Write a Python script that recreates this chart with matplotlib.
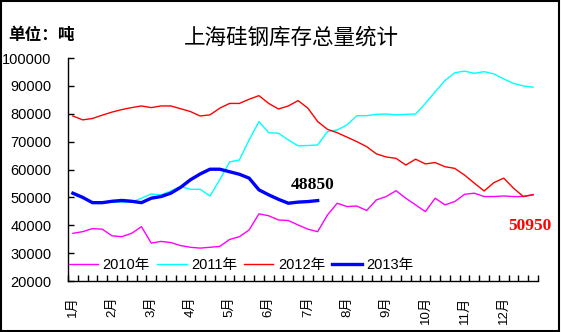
import matplotlib
matplotlib.use('Agg')
import matplotlib.pyplot as plt
from matplotlib.patches import Rectangle

# ------------- datos (toneladas, semanal) -------------
months = ['1月', '2月', '3月', '4月', '5月', '6月', '7月', '8月', '9月', '10月', '11月', '12月']
y2010 = [37100, 37700, 38800, 38600, 36200, 35900, 37100, 39500, 33600, 34200, 33800, 32700,
         32100, 31800, 32100, 32400, 34900, 35900, 38300, 44100, 43400, 41900, 41700, 40100,
         38600, 37700, 43700, 47900, 46700, 46900, 45300, 49100, 50300, 52400, 49700, 47300,
         44900, 49700, 47300, 48500, 51100, 51500, 50300, 50300, 50500, 50300, 50300, 51000]
y2011 = [51200, 49700, 48300, 48300, 48300, 48300, 48300, 49700, 51200, 50900, 52300, 53900,
         52900, 52900, 50500, 56300, 62700, 63400, 70600, 77200, 73200, 73000, 70600, 68500,
         68600, 68800, 73600, 74200, 76000, 79300, 79300, 79800, 79900, 79600, 79800, 79900,
         83700, 87900, 91900, 94700, 95300, 94500, 95100, 94300, 92500, 90900, 90000, 89500]
y2012 = [79200, 77800, 78300, 79500, 80600, 81500, 82200, 82800, 82200, 82800, 82800, 81800,
         80800, 79200, 79600, 82000, 83700, 83700, 85200, 86500, 83700, 81700, 82800, 84700,
         82000, 77200, 74400, 73200, 71600, 70000, 68200, 65600, 64500, 64000, 61600, 63700,
         62000, 62500, 61000, 60400, 58000, 55100, 52300, 55300, 56900, 53300, 50300, 50950]
y2013 = [51500, 50000, 48100, 48100, 48600, 48900, 48600, 48100, 49700, 50300, 51500, 53600,
         56300, 58400, 60100, 60100, 59200, 58300, 56900, 52700, 50900, 49300, 47900, 48300,
         48500, 48850]
series = [('2010年', y2010, '#FF00FF', 1.0),
          ('2011年', y2011, '#00FFFF', 1.0),
          ('2012年', y2012, '#FF0000', 1.0),
          ('2013年', y2013, '#0000FF', 2.4)]

plt.rcParams['font.family'] = ['Liberation Sans', 'Noto Sans CJK SC']

fig = plt.figure(figsize=(5.61, 3.32), dpi=100)
ax = fig.add_axes([0.1212, 0.1536, 0.8378, 0.6717])

for name, vals, col, lw in series:
    ax.plot(range(len(vals)), vals, color=col, lw=lw, label=name)

n = len(y2010)
ax.set_xlim(-0.5, n - 0.5)
ax.set_ylim(20000, 100000)
ax.set_yticks(range(20000, 100001, 10000))
ax.set_xticks(range(0, n, 4))
ax.set_xticklabels(months, rotation=90, va='top', ha='center')
ax.set_xticks([i - 0.5 for i in range(n + 1)], minor=True)
ax.tick_params(axis='x', which='major', length=0, pad=11, labelsize=9.5)
ax.tick_params(axis='x', which='minor', direction='in', length=4, width=1)
ax.tick_params(axis='y', direction='in', length=4, width=1, labelsize=10.5, pad=12)
for s in ['top', 'right']:
    ax.spines[s].set_visible(False)
for s in ['left', 'bottom']:
    ax.spines[s].set_linewidth(1)

ax.legend(loc='center left', bbox_to_anchor=(-0.01, 0.07), ncol=4, frameon=False,
          fontsize=10.5, handlelength=2.0, handletextpad=0.3, columnspacing=0.5,
          borderaxespad=0)

# textos
fig.text(0.519, 0.887, '上海硅钢库存总量统计', ha='center', va='center', fontsize=15.5,
         family=['Noto Sans CJK SC'])
fig.text(0.014, 0.895, '单位：吨', ha='left', va='center', fontsize=12, fontweight='bold',
         family=['Noto Sans CJK SC'])
fig.text(0.558, 0.443, '48850', ha='center', va='center', fontsize=12.5, fontweight='bold',
         family=['Liberation Serif'], color='black')
fig.text(0.945, 0.319, '50950', ha='center', va='center', fontsize=12.5, fontweight='bold',
         family=['Liberation Serif'], color='#FF0000')

fig.patches.append(Rectangle((0.002, 0.004), 0.995, 0.993, transform=fig.transFigure,
                             fill=False, lw=1.5, edgecolor='black'))

fig.savefig('out.png', dpi=100)
plt.close(fig)
